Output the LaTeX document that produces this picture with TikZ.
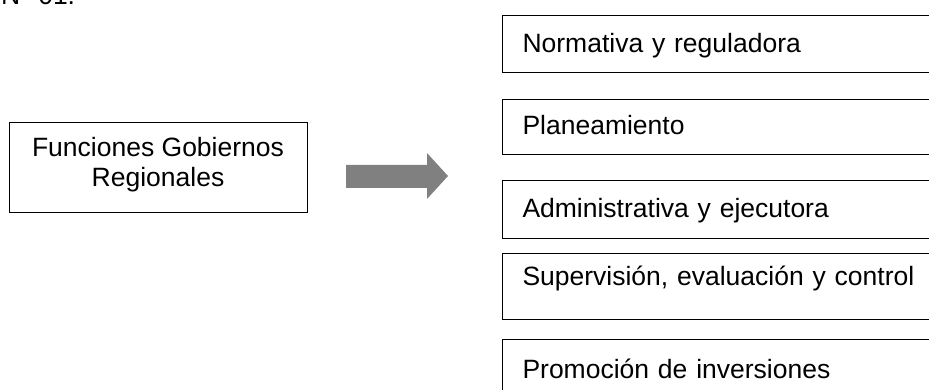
\documentclass[tikz,border=0pt]{standalone}
\usepackage{fontspec}
\setmainfont{Liberation Sans}
\usetikzlibrary{positioning}

\tikzset{
  fbox/.style 2 args={draw,line width=1pt,anchor=north west,inner ysep=0pt,inner xsep=20pt,
    text width=420pt,align=left,text height=#1,text depth=#2},
  gbox/.style={draw,line width=1pt,align=center,minimum width=298pt,minimum height=90pt,text depth=12pt},
  blockarrow/.style={fill=gray}
}

\begin{document}
\begin{tikzpicture}
[x=1pt,y=-1pt,font=\fontsize{26.5}{30}\selectfont]

  \useasboundingbox (0,0) rectangle (929,390);
  \clip (0,0) rectangle (929,390);

  \node[anchor=base west,inner sep=0pt] (title) at (1,4.5) {N° 01.};

  \node[gbox] (n0) at (158,168) {Funciones Gobiernos\\Regionales};

  \node[fbox={37pt}{20pt}] (n1) at (502,15)  {Normativa y reguladora};
  \node[fbox={35pt}{20pt}] (n2) at (502,99)  {Planeamiento};
  \node[fbox={37pt}{21pt}] (n3) at (502,180) {Administrativa y ejecutora};
  \node[fbox={32pt}{34pt}] (n4) at (502,253) {Supervisión, evaluación y control};
  \node[fbox={39pt}{40pt}] (n5) at (502,339) {Promoción de inversiones};

  % block arrow
  \fill[blockarrow] (346,165) -- (427,165) -- (427,153) -- (448,176)
    -- (427,199) -- (427,188) -- (346,188) -- cycle;

\end{tikzpicture}
\end{document}
